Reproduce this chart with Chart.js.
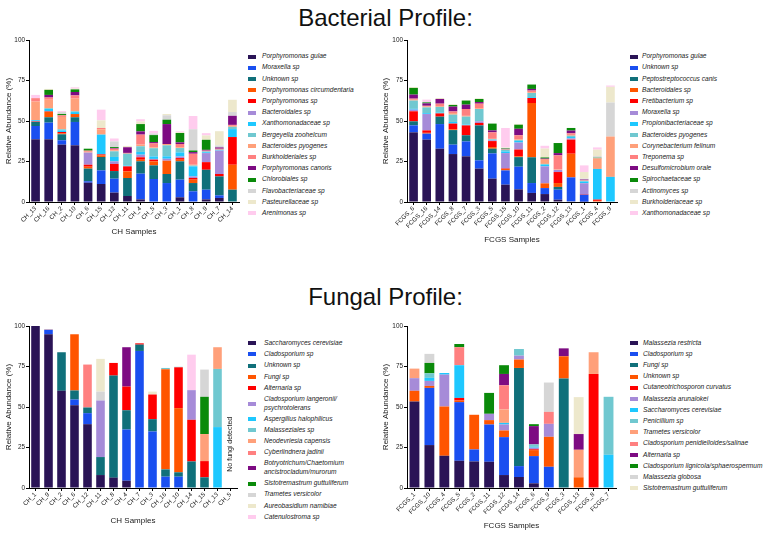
<!DOCTYPE html>
<html>
<head>
<meta charset="utf-8">
<script src="https://cdn.jsdelivr.net/npm/chart.js@4.4.1/dist/chart.umd.min.js"></script>
<style>
  body { margin: 0; background: #fff; font-family: "Liberation Sans", Arial, sans-serif; }
  #page { position: relative; width: 771px; height: 537px; overflow: hidden; }
  canvas { position: absolute; }
  .title { position: absolute; left: 0; width: 771px; text-align: center; font-size: 24px; line-height: 26px; color: #111; }
  .legend { position: absolute; font-size: 6.6px; font-style: italic; color: #222; }
  .legend .item { display: flex; align-items: center; padding: 1.3px 0; }
  .legend .sw { width: 8px; height: 4px; flex: none; }
  .legend .tx { line-height: 8.6px; white-space: pre; }
</style>
</head>
<body>
<div id="page">
  <div class="title" style="top:5px">Bacterial Profile:</div>
  <div class="title" style="top:284px">Fungal Profile:</div>

  <canvas id="bacCH" width="245" height="205" style="left:0;top:32px"></canvas>
  <div class="legend" id="legBacCH" style="left:248px;top:51px"></div>

  <canvas id="bacFCGS" width="252" height="213" style="left:370px;top:32px"></canvas>
  <div class="legend" id="legBacFCGS" style="left:630px;top:51px"></div>

  <canvas id="funCH" width="243" height="208" style="left:0;top:318px"></canvas>
  <div class="legend" id="legFunCH" style="left:248px;top:337.7px"></div>

  <canvas id="funFCGS" width="251" height="213" style="left:370px;top:318px"></canvas>
  <div class="legend" id="legFunFCGS" style="left:630px;top:337.4px"></div>
</div>

<script>
// colours shared by all four panels, in stacking order
const palette = ["#2a1456", "#1a4ff0", "#10707a", "#ff5500", "#ff0000", "#a68bd8", "#1ec8ff",
  "#70c8d0", "#ffa07a", "#ff8080", "#7d0b82", "#0a8a0a", "#d6d6d6", "#ede8cc", "#ffccee"];

// ---- Bacterial, CH samples ----
const bacChSamples = ["CH_13", "CH_16", "CH_2", "CH_10", "CH_6", "CH_15", "CH_12", "CH_11",
  "CH_4", "CH_5", "CH_3", "CH_1", "CH_8", "CH_9", "CH_7", "CH_14"];
const bacChTaxa = ["Porphyromonas gulae", "Moraxella sp", "Unknown sp", "Porphyromonas circumdentaria",
  "Porphyromonas sp", "Bacteroidales sp", "Xanthomonadaceae sp", "Bergeyella zoohelcum",
  "Bacteroides pyogenes", "Burkholderiales sp", "Porphyromonas canoris", "Chlorobiales sp",
  "Flavobacteriaceae sp", "Pasteurellaceae sp", "Arenimonas sp"];
const bacChValues = [
  [38.7, 8.2, 2.5, 0, 0.3, 0, 0.8, 0, 11.5, 2.1, 0, 0, 0, 0, 2.0],
  [38.7, 10.3, 3.3, 3.3, 0.3, 0, 1.5, 0.5, 5.2, 1.4, 1.6, 3.1, 0, 0.6, 0],
  [35.4, 2.7, 3.7, 0.6, 0.8, 0, 1.0, 0.7, 7.6, 1.0, 0, 0.8, 1.2, 0, 0.6],
  [35.0, 14.4, 2.9, 2.0, 0, 0, 1.2, 0.5, 7.8, 2.0, 2.1, 1.6, 0, 0.5, 0.8],
  [11.9, 0.9, 7.8, 1.2, 1.2, 7.5, 0, 0, 0.5, 0.7, 0, 1.2, 0, 0, 0],
  [11.1, 8.4, 8.3, 1.0, 0.6, 0, 12.2, 0, 3.3, 0.8, 0, 0, 0, 4.7, 6.6],
  [5.8, 8.6, 4.7, 0, 4.4, 1.6, 2.7, 3.5, 0.5, 1.1, 0.4, 0.6, 3.5, 0, 1.8],
  [3.7, 0, 11.1, 4.1, 3.1, 0, 0.5, 7.3, 0, 0.5, 3.5, 0, 0, 0.8, 0],
  [1.6, 15.9, 7.6, 1.0, 1.5, 1.6, 1.7, 3.5, 1.0, 6.2, 2.0, 4.5, 0, 1.6, 1.4],
  [0.3, 13.9, 8.4, 2.5, 1.0, 0.5, 1.5, 5.1, 0.5, 2.5, 0.8, 4.3, 1.0, 0, 1.6],
  [0, 11.7, 5.6, 8.2, 0, 1.2, 1.5, 6.8, 0.8, 0, 12.3, 2.7, 2.7, 0.8, 0],
  [2.9, 10.9, 11.3, 1.0, 1.0, 1.0, 2.5, 2.7, 0.5, 2.0, 1.0, 5.8, 0, 0.5, 0.5],
  [0, 6.6, 5.1, 2.1, 1.0, 1.0, 6.2, 0.5, 0.5, 6.8, 1.0, 1.0, 13.1, 0, 8.2],
  [1.6, 6.0, 12.3, 0, 4.7, 5.6, 0.5, 0.5, 0, 0.5, 0.5, 6.2, 0, 2.7, 1.4],
  [2.5, 1.6, 11.7, 0, 1.5, 14.4, 0.3, 0.3, 0, 0.6, 0.8, 0, 1.2, 8.8, 0],
  [0, 0, 7.6, 15.4, 17.1, 0, 4.9, 1.4, 0.6, 0.6, 5.6, 0, 2.3, 7.6, 0]
];

// ---- Bacterial, FCGS samples ----
const bacFcgsSamples = ["FCGS_6", "FCGS_16", "FCGS_14", "FCGS_8", "FCGS_7", "FCGS_3", "FCGS_5", "FCGS_15",
  "FCGS_10", "FCGS_11", "FCGS_2", "FCGS_12", "FCGS_13", "FCGS_1", "FCGS_4", "FCGS_9"];
const bacFcgsTaxa = ["Porphyromonas gulae", "Unknown sp", "Peptostreptococcus canis", "Bacteroidales sp",
  "Fretibacterium sp", "Moraxella sp", "Propionibacteriaceae sp", "Bacteroides pyogenes",
  "Corynebacterium felinum", "Treponema sp", "Desulfomicrobium orale", "Spirochaetaceae sp",
  "Actinomyces sp", "Burkholderiaceae sp", "Xanthomonadaceae sp"];
const bacFcgsValues = [
  [43.0, 4.3, 2.5, 0, 6.2, 1.0, 0.5, 5.1, 0.5, 0.7, 2.5, 4.1, 0, 0.6, 0],
  [38.5, 3.7, 0, 0.5, 1.5, 10.1, 0.5, 3.6, 0.5, 0.5, 1.5, 0.6, 0, 0, 1.7],
  [32.9, 15.2, 4.6, 0, 2.0, 0, 0.5, 3.5, 0.5, 1.5, 2.9, 0, 0, 0.6, 0],
  [29.6, 5.8, 9.0, 0.5, 3.5, 0, 1.0, 4.5, 1.0, 1.0, 3.0, 1.0, 0, 0.4, 0],
  [28.2, 9.2, 3.8, 0, 6.1, 0, 0.5, 4.9, 0.5, 4.2, 2.7, 2.5, 0, 0.3, 0],
  [20.6, 5.1, 21.6, 0, 1.5, 1.0, 0, 7.6, 0.5, 2.8, 1.0, 1.9, 0, 0.3, 0],
  [14.4, 15.6, 2.9, 1.0, 3.7, 0.5, 0.3, 0.3, 0.3, 4.0, 1.2, 4.2, 0, 0, 0],
  [10.7, 8.8, 0, 0.9, 0.3, 9.5, 1.0, 1.0, 0.3, 0, 0.3, 0.3, 0.3, 0.3, 12.0],
  [7.8, 14.0, 5.9, 0.5, 4.2, 4.3, 1.0, 0.5, 0.5, 2.5, 4.0, 2.5, 0, 0.5, 0],
  [5.6, 6.1, 15.9, 33.5, 3.1, 0, 0.5, 2.6, 0.5, 1.0, 1.0, 2.7, 0, 0, 0],
  [4.9, 3.7, 0, 2.9, 0, 10.5, 1.0, 0.5, 2.5, 0.5, 0.3, 0.7, 0, 5.5, 1.7],
  [1.4, 6.2, 1.7, 2.4, 6.8, 1.3, 0, 0, 0.3, 8.7, 1.4, 6.2, 0, 0, 0],
  [0.4, 14.8, 0, 14.6, 8.7, 0.8, 0.8, 0.8, 0.5, 1.0, 1.7, 1.6, 0, 0, 0],
  [0.2, 4.3, 0, 0, 0.3, 6.8, 1.0, 0.5, 0, 0.5, 0.3, 0, 0.5, 4.1, 4.1],
  [0, 0, 0, 0.7, 0.8, 0, 18.9, 0, 6.3, 0.3, 0, 0.3, 1.0, 4.0, 1.4],
  [0.3, 0, 0, 0, 0, 0, 15.2, 0, 24.9, 0, 0, 0, 21.0, 9.7, 0.8]
];

// ---- Fungal, CH samples ----
const funChSamples = ["CH_1", "CH_9", "CH_2", "CH_6", "CH_12", "CH_11", "CH_8", "CH_4",
  "CH_7", "CH_3", "CH_16", "CH_10", "CH_14", "CH_15", "CH_13", "CH_5"];
const funChTaxa = ["Saccharomyces cerevisiae", "Cladosporium sp", "Unknown sp", "Fungi sp", "Alternaria sp",
  "Cladosporium langeronii/\npsychrotolerans", "Aspergillus halophilicus", "Malasseziales sp",
  "Neodevriesia capensis", "Cyberlindnera jadinii", "Botryotrichum/Chaetomium\nancistrocladum/murorum",
  "Sistotremastrum guttuliferum", "Trametes versicolor", "Aureobasidium namibiae", "Catenulostroma sp"];
const funChValues = [
  [100],
  [94.9, 2.8, 0, 0, 0, 0, 0, 0, 0.3],
  [60.0, 0, 23.8],
  [51.1, 3.5, 5.6, 34.7],
  [39.4, 6.8, 3.5, 0, 0, 0, 0, 0, 0, 26.5],
  [8.0, 0, 11.1, 0, 0, 34.9, 0, 0, 0, 0, 0, 0, 5.5, 20.2],
  [6.4, 0, 63.0, 0, 7.8],
  [4.5, 31.6, 11.9, 0, 14.6, 0, 0, 0, 0, 0, 24.3],
  [0, 84.6, 3.9, 0, 0.8],
  [0, 34.9, 7.6, 0, 15.2, 0, 0, 0, 0, 0, 0, 0, 0, 1.8],
  [0, 7.0, 4.5, 61.8, 0, 0, 0, 0.8],
  [0, 7.0, 2.7, 39.6, 25.2, 0, 0, 0.3],
  [0, 0, 16.4, 0, 25.7, 18.3, 0, 0, 0, 0, 0, 0, 0, 0, 21.9],
  [0, 0, 6.6, 0, 10.0, 0, 0, 0, 16.7, 0, 0, 23.0, 16.8],
  [0, 0, 0, 0, 0, 0, 37.6, 35.9, 13.4],
  []
];
const noFungiSample = "CH_5";
const noFungiNote = "No fungi detected";

// ---- Fungal, FCGS samples ----
const funFcgsSamples = ["FCGS_1", "FCGS_10", "FCGS_4", "FCGS_5", "FCGS_2", "FCGS_11", "FCGS_12",
  "FCGS_14", "FCGS_6", "FCGS_9", "FCGS_3", "FCGS_13", "FCGS_8", "FCGS_7"];
const funFcgsTaxa = ["Malassezia restricta", "Cladosporium sp", "Fungi sp", "Unknown sp",
  "Cutaneotrichosporon curvatus", "Malassezia arunalokei", "Saccharomyces cerevisiae", "Penicillium sp",
  "Trametes versicolor", "Cladosporium penidielloides/salinae", "Alternaria sp",
  "Cladosporium lignicola/sphaerospermum", "Malassezia globosa", "Sistotremastrum guttuliferum"];
const funFcgsValues = [
  [53.4, 0, 0, 6.6, 0, 7.8, 0, 0, 5.9],
  [26.5, 35.3, 0, 1.2, 0, 3.1, 1.9, 2.8, 0, 0, 0, 6.4, 5.6],
  [19.9, 0, 0, 30.4, 0, 19.7, 1.0],
  [16.8, 36.2, 0, 1.0, 1.6, 0, 20.2, 0, 0, 11.1, 0, 2.0],
  [16.4, 7.4, 0, 21.4],
  [16.2, 23.0, 0, 2.7, 0, 3.9, 0, 0, 0, 0, 0, 12.9],
  [8.0, 23.4, 0, 4.1, 0, 3.7, 1.0, 0, 8.3, 14.9, 7.0, 5.4],
  [6.8, 6.7, 60.6, 5.2, 0, 2.4, 0, 4.1],
  [2.9, 16.8, 0, 3.7, 0.5, 1.0, 0.5, 1.5, 0, 0, 11.3, 1.2],
  [0, 13.1, 0, 18.5, 0, 8.0, 0, 0, 0, 7.4, 0, 0, 18.1],
  [0, 0, 67.6, 13.7, 0, 0, 0, 0, 0, 0, 4.9],
  [0, 0, 0, 6.6, 0, 0, 0, 0, 17.0, 0, 9.7, 0, 0, 22.8],
  [0, 0, 0, 0, 70.4, 0, 0, 0, 13.4],
  [0, 0, 0, 0, 0, 0, 20.5, 35.8]
];

const yTicks = [0, 25, 50, 75, 100];
const inkColor = "#1a1a1a";
const fontFamily = '"Liberation Sans", Arial, sans-serif';

function toDatasets(taxa, rows) {
  return taxa.map((name, i) => ({
    label: name,
    data: rows.map((r) => r[i] || 0),
    backgroundColor: palette[i],
    barPercentage: 0.66,
    categoryPercentage: 1,
  }));
}

// draws the rotated note above an empty sample
const notePlugin = {
  id: "note",
  afterDatasetsDraw(chart, args, opts) {
    if (!opts.text) return;
    const { ctx, scales } = chart;
    const x = scales.x.getPixelForValue(chart.data.labels.indexOf(opts.sample));
    const y = scales.y.getPixelForValue(opts.at);
    ctx.save();
    ctx.translate(x, y);
    ctx.rotate(-Math.PI / 2);
    ctx.font = "7px " + fontFamily;
    ctx.fillStyle = inkColor;
    ctx.textAlign = "center";
    ctx.textBaseline = "middle";
    ctx.fillText(opts.text, 0, 0);
    ctx.restore();
  },
};

function makeChart(id, samples, taxa, rows, xTitle, yWidth, xHeight, yTitlePad, rightPad, note) {
  const ctx = document.getElementById(id).getContext("2d");
  return new Chart(ctx, {
    type: "bar",
    data: { labels: samples, datasets: toDatasets(taxa, rows) },
    plugins: [notePlugin],
    options: {
      responsive: false,
      animation: false,
      layout: { padding: { top: 8, right: rightPad, left: 0, bottom: 0 } },
      plugins: {
        legend: { display: false },
        tooltip: { enabled: false },
        note: note || {},
      },
      scales: {
        x: {
          stacked: true,
          ticks: {
            autoSkip: false,
            maxRotation: 45,
            minRotation: 45,
            padding: 0,
            color: inkColor,
            font: { family: fontFamily, size: 6.2 },
          },
          grid: { drawOnChartArea: false, offset: false, tickLength: 3, color: "#000" },
          border: { color: "#000", width: 1 },
          title: {
            display: true,
            text: xTitle,
            color: inkColor,
            padding: 0,
            font: { family: fontFamily, size: 8 },
          },
          afterFit: (s) => { s.height = xHeight; },
        },
        y: {
          stacked: true,
          min: 0,
          max: 100,
          afterBuildTicks: (s) => { s.ticks = yTicks.map((v) => ({ value: v })); },
          ticks: { padding: 1, color: inkColor, font: { family: fontFamily, size: 6.4 } },
          grid: { drawOnChartArea: false, tickLength: 3, color: "#000" },
          border: { color: "#000", width: 1 },
          title: {
            display: true,
            text: "Relative Abundance (%)",
            color: inkColor,
            padding: { top: yTitlePad, bottom: 0 },
            font: { family: fontFamily, size: 8 },
          },
          afterFit: (s) => { s.width = yWidth; },
        },
      },
    },
  });
}

function buildLegend(id, taxa, gap) {
  const box = document.getElementById(id);
  taxa.forEach((name, i) => {
    const item = document.createElement("div");
    item.className = "item";
    const sw = document.createElement("span");
    sw.className = "sw";
    sw.style.background = palette[i];
    sw.style.marginRight = gap + "px";
    const tx = document.createElement("span");
    tx.className = "tx";
    tx.textContent = name;
    item.appendChild(sw);
    item.appendChild(tx);
    box.appendChild(item);
  });
}

makeChart("bacCH", bacChSamples, bacChTaxa, bacChValues, "CH Samples", 29, 35, 4, 6);
makeChart("bacFCGS", bacFcgsSamples, bacFcgsTaxa, bacFcgsValues, "FCGS Samples", 37, 43, 11, 5);
makeChart("funCH", funChSamples, funChTaxa, funChValues, "CH Samples", 29, 38, 4, 6,
  { text: noFungiNote, sample: noFungiSample, at: 27 });
makeChart("funFCGS", funFcgsSamples, funFcgsTaxa, funFcgsValues, "FCGS Samples", 37, 43, 11, 5);

buildLegend("legBacCH", bacChTaxa, 6);
buildLegend("legBacFCGS", bacFcgsTaxa, 4);
buildLegend("legFunCH", funChTaxa, 8);
buildLegend("legFunFCGS", funFcgsTaxa, 5);
</script>
</body>
</html>
